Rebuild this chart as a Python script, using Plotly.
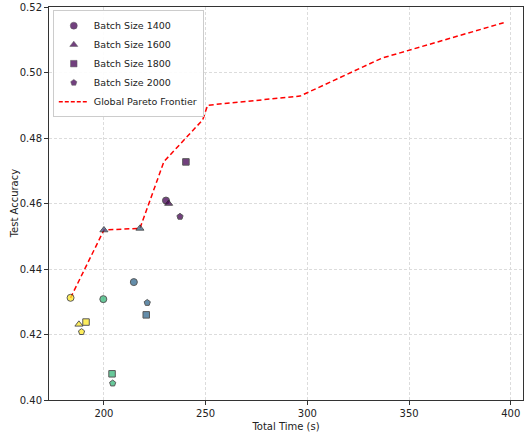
import plotly.graph_objects as go

# Data per batch size: (time, accuracy, color-group)
b1400_x = [183.6, 199.7, 214.7, 230.5]
b1400_y = [0.4312, 0.4308, 0.4360, 0.4609]
b1400_c = ["#fde725", "#35b779", "#31688e", "#440154"]

b1600_x = [187.7, 200.0, 217.7, 231.8]
b1600_y = [0.4231, 0.4519, 0.4524, 0.4600]
b1600_c = ["#fde725", "#3b528b", "#31688e", "#440154"]

b1800_x = [191.2, 204.0, 220.8, 240.3]
b1800_y = [0.4238, 0.4080, 0.4260, 0.4727]
b1800_c = ["#fde725", "#35b779", "#31688e", "#440154"]

b2000_x = [189.0, 204.3, 221.3, 237.4]
b2000_y = [0.4208, 0.4051, 0.4297, 0.4560]
b2000_c = ["#fde725", "#35b779", "#31688e", "#440154"]

pareto_x = [183.6, 200.0, 217.7, 229.5, 248.5, 251.0, 296.4, 336.7, 396.5]
pareto_y = [0.4312, 0.4519, 0.4524, 0.4728, 0.4855, 0.4900, 0.4928, 0.5044, 0.5152]

x_ticks = [200, 250, 300, 350, 400]
y_ticks = [0.40, 0.42, 0.44, 0.46, 0.48, 0.50, 0.52]

fig = go.Figure()

series = [
    ("Batch Size 1400", "circle", b1400_x, b1400_y, b1400_c, 7),
    ("Batch Size 1600", "triangle-up", b1600_x, b1600_y, b1600_c, 7),
    ("Batch Size 1800", "square", b1800_x, b1800_y, b1800_c, 6.5),
    ("Batch Size 2000", "pentagon", b2000_x, b2000_y, b2000_c, 6.5),
]

fig.add_trace(go.Scatter(
    x=pareto_x, y=pareto_y, mode="lines", name="Global Pareto Frontier",
    line=dict(color="red", dash="5px,3px", width=1.5), showlegend=False,
))

for name, sym, xs, ys, cs, sz in series:
    fig.add_trace(go.Scatter(
        x=xs, y=ys, mode="markers", name=name, showlegend=False,
        marker=dict(symbol=sym, color=cs, size=sz, opacity=0.75,
                    line=dict(color="#222222", width=1)),
    ))

for name, sym, xs, ys, cs, sz in series:
    fig.add_trace(go.Scatter(
        x=[None], y=[None], mode="markers", name=name,
        marker=dict(symbol=sym, color="#440154", size=sz, opacity=0.75,
                    line=dict(color="#222222", width=0.5)),
    ))
fig.add_trace(go.Scatter(
    x=[None], y=[None], mode="lines", name="Global Pareto Frontier",
    line=dict(color="red", dash="4px,2px", width=1.5),
))

axis_common = dict(
    showline=True, linecolor="#333333", linewidth=1, mirror=True,
    ticks="outside", ticklen=4, tickcolor="#333333",
    showgrid=True, gridcolor="#dcdcdc", griddash="3px,2px", gridwidth=1,
    zeroline=False, tickfont=dict(size=10, color="#222222"),
)

fig.update_layout(
    width=525, height=433,
    margin=dict(l=49, r=2, t=7, b=33),
    paper_bgcolor="white", plot_bgcolor="white",
    font=dict(family="DejaVu Sans", size=10, color="#222222"),
    xaxis=dict(range=[173, 406], tickvals=x_ticks,
               title=dict(text="Total Time (s)", font=dict(size=10), standoff=4),
               **axis_common),
    yaxis=dict(range=[0.40, 0.52], tickvals=y_ticks, tickformat=".2f",
               **axis_common),
    legend=dict(x=0.008, y=0.992, xanchor="left", yanchor="top",
                bgcolor="rgba(255,255,255,0.9)", bordercolor="#cccccc", borderwidth=1,
                font=dict(size=9.5), tracegroupgap=0, itemwidth=30),
    annotations=[dict(text="Test Accuracy", textangle=-90, showarrow=False,
                      xref="paper", yref="paper", x=-0.072, y=0.5,
                      xanchor="center", yanchor="middle", font=dict(size=10))],
)

fig.write_html("out.html")
